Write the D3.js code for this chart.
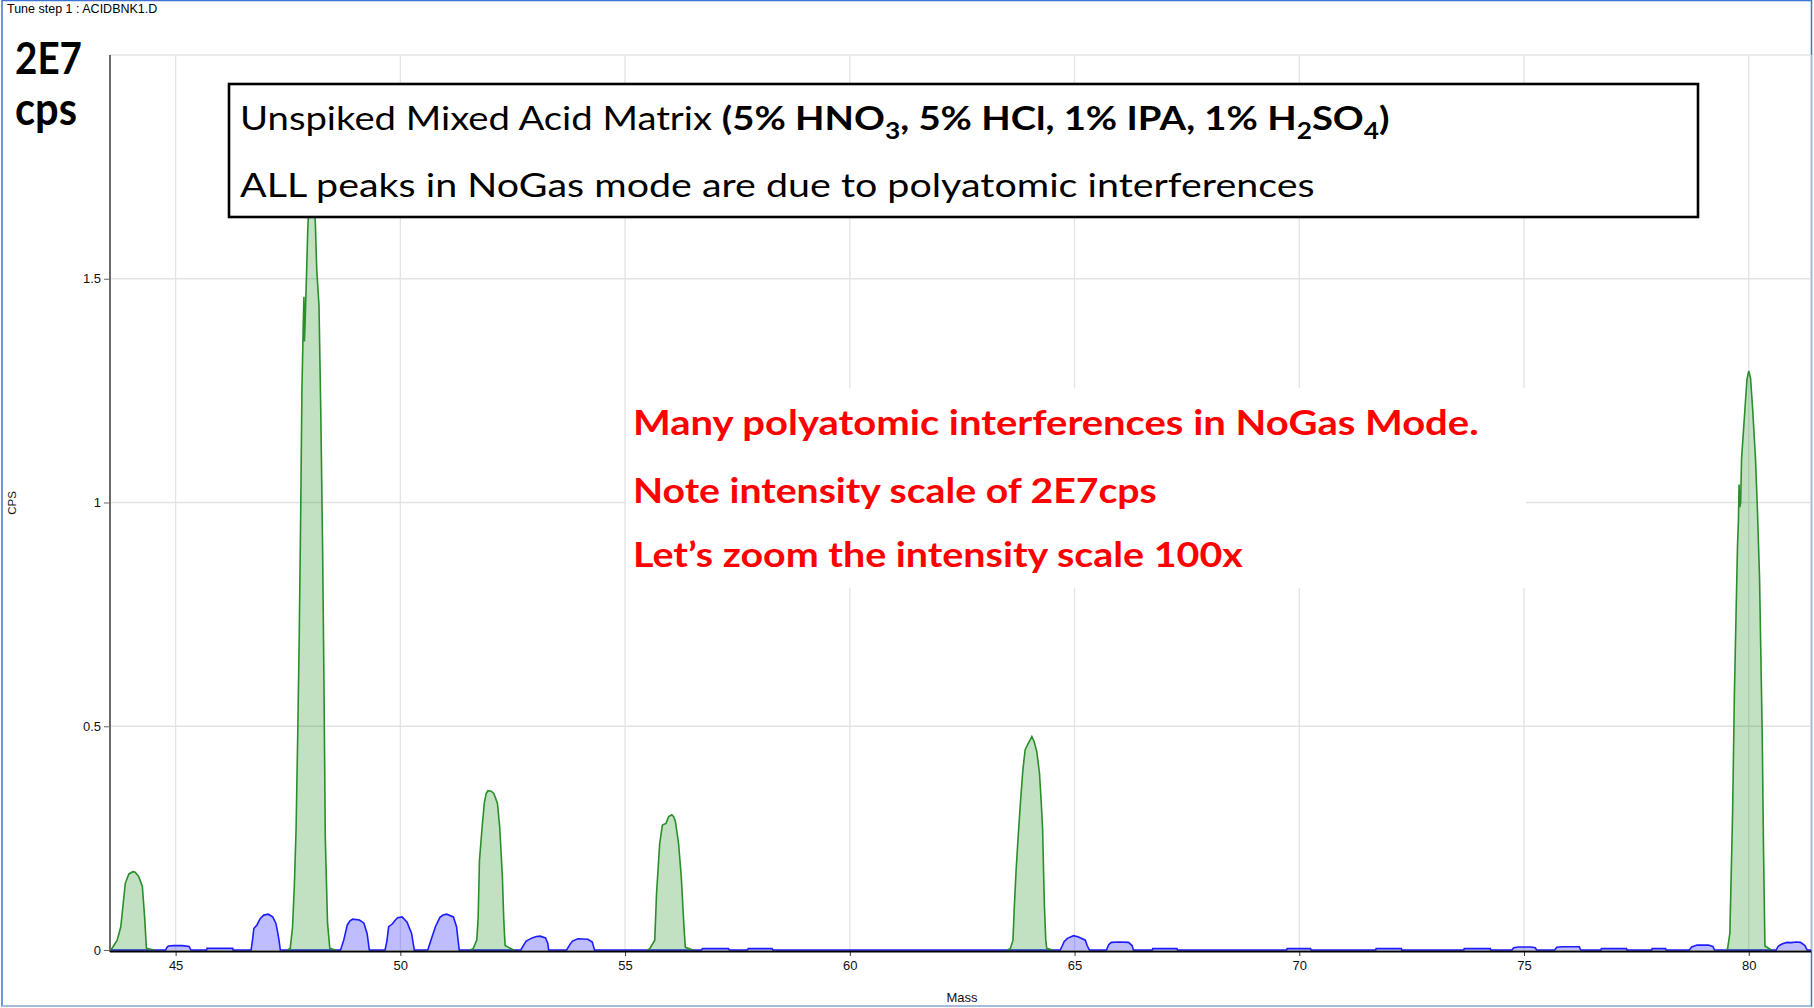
<!DOCTYPE html>
<html>
<head>
<meta charset="utf-8">
<script src="https://cdn.jsdelivr.net/npm/d3@7"></script>
<style>
  html, body { margin: 0; padding: 0; background: #fff; }
  svg { display: block; }
</style>
</head>
<body>
<svg id="chart" width="1814" height="1008"></svg>
<script>
// ---------------- DATA ----------------
const massTicks = [45, 50, 55, 60, 65, 70, 75, 80];
const massTickLabels = ["45", "50", "55", "60", "65", "70", "75", "80"];
const cpsTicks = [0, 0.5, 1, 1.5];
const cpsTickLabels = ["0", "0.5", "1", "1.5"];
const cpsGrid = [0.5, 1, 1.5, 2];
const massDomain = [43.54, 81.385];
const cpsDomain = [0, 2];

// NoGas mode (green) peaks: [mass, intensity in units of 1E7 cps]
const noGasPeak44 = [[43.55,0],[43.58,0.003],[43.70,0.022],[43.78,0.052],[43.84,0.11],[43.88,0.149],[43.96,0.170],[44.05,0.175],[44.10,0.174],[44.18,0.164],[44.26,0.142],[44.31,0.074],[44.35,0.004],[44.52,0]];
const noGasPeak48 = [[47.50,0],[47.55,0.004],[47.60,0.05],[47.64,0.14],[47.68,0.27],[47.72,0.50],[47.75,0.70],[47.78,0.95],[47.81,1.25],[47.84,1.40],[47.855,1.46],[47.865,1.36],[47.88,1.40],[47.91,1.50],[47.94,1.61],[47.98,1.70],[48.02,1.73],[48.07,1.70],[48.11,1.62],[48.14,1.52],[48.19,1.44],[48.23,1.20],[48.27,0.90],[48.30,0.60],[48.33,0.25],[48.38,0.06],[48.43,0.004],[48.55,0]];
const noGasPeak52 = [[51.55,0],[51.62,0.003],[51.70,0.022],[51.73,0.07],[51.76,0.20],[51.82,0.276],[51.87,0.33],[51.91,0.350],[51.95,0.356],[52.02,0.355],[52.08,0.350],[52.16,0.328],[52.21,0.276],[52.24,0.22],[52.27,0.164],[52.30,0.07],[52.33,0.01],[52.52,0]];
const noGasPeak56 = [[55.50,0],[55.55,0.003],[55.66,0.022],[55.70,0.127],[55.77,0.238],[55.83,0.279],[55.91,0.283],[55.97,0.298],[56.04,0.302],[56.08,0.298],[56.12,0.287],[56.19,0.238],[56.25,0.164],[56.31,0.052],[56.34,0.006],[56.51,0]];
const noGasPeak64 = [[63.50,0],[63.57,0.003],[63.63,0.022],[63.66,0.097],[63.70,0.179],[63.75,0.261],[63.80,0.335],[63.85,0.402],[63.90,0.447],[63.95,0.458],[64.01,0.469],[64.05,0.477],[64.10,0.466],[64.16,0.443],[64.22,0.395],[64.26,0.328],[64.29,0.268],[64.31,0.179],[64.33,0.097],[64.36,0.022],[64.38,0.004],[64.51,0]];
const noGasPeak80 = [[79.50,0],[79.53,0.003],[79.58,0.038],[79.64,0.303],[79.68,0.568],[79.72,0.762],[79.75,0.904],[79.77,0.957],[79.785,1.04],[79.80,0.99],[79.82,1.00],[79.84,1.098],[79.90,1.186],[79.96,1.275],[80.00,1.294],[80.04,1.278],[80.09,1.204],[80.15,1.098],[80.19,0.992],[80.24,0.833],[80.27,0.656],[80.30,0.480],[80.33,0.215],[80.36,0.009],[80.50,0]];

// Other masses (blue) peaks
const bluePeak45 = [[44.78,0],[44.80,0.005],[44.84,0.009],[44.95,0.0097],[45.15,0.0097],[45.30,0.008],[45.34,0]];
const bluePeak46 = [[45.69,0],[45.70,0.0037],[46.27,0.0037],[46.28,0]];
const bluePeak47 = [[46.68,0],[46.72,0.03],[46.74,0.048],[46.81,0.056],[46.88,0.07],[46.96,0.078],[47.06,0.080],[47.16,0.074],[47.23,0.06],[47.27,0.04],[47.30,0.022],[47.33,0]];
const bluePeak49 = [[48.67,0],[48.74,0.022],[48.82,0.056],[48.88,0.065],[48.94,0.069],[49.09,0.067],[49.19,0.060],[49.26,0.037],[49.31,0]];
const bluePeak50 = [[49.66,0],[49.70,0.02],[49.74,0.052],[49.82,0.058],[49.88,0.066],[49.94,0.072],[50.04,0.074],[50.15,0.062],[50.25,0.037],[50.31,0]];
const bluePeak51 = [[50.61,0],[50.68,0.022],[50.78,0.052],[50.88,0.073],[50.95,0.078],[51.03,0.080],[51.18,0.074],[51.25,0.052],[51.31,0]];
const bluePeak53 = [[52.68,0],[52.75,0.012],[52.80,0.020],[52.93,0.027],[53.03,0.030],[53.11,0.031],[53.23,0.027],[53.28,0.015],[53.30,0]];
const bluePeak54 = [[53.70,0],[53.77,0.012],[53.83,0.020],[53.95,0.025],[54.17,0.024],[54.27,0.018],[54.32,0]];
const bluePeak57 = [[56.70,0],[56.72,0.003],[57.30,0.003],[57.32,0]];
const bluePeak58 = [[57.72,0],[57.74,0.003],[58.27,0.003],[58.29,0]];
const bluePeak65 = [[64.68,0],[64.73,0.01],[64.77,0.019],[64.84,0.026],[64.98,0.032],[65.09,0.029],[65.24,0.022],[65.28,0.01],[65.33,0]];
const bluePeak66 = [[65.71,0],[65.76,0.012],[65.82,0.017],[65.99,0.018],[66.20,0.017],[66.28,0.01],[66.31,0]];
const bluePeak67 = [[66.73,0],[66.74,0.003],[67.28,0.003],[67.29,0]];
const bluePeak70 = [[69.72,0],[69.73,0.003],[70.25,0.003],[70.26,0]];
const bluePeak72 = [[71.70,0],[71.71,0.003],[72.27,0.003],[72.28,0]];
const bluePeak74 = [[73.66,0],[73.67,0.003],[74.25,0.003],[74.26,0]];
const bluePeak75 = [[74.73,0],[74.77,0.005],[74.88,0.0067],[75.15,0.0067],[75.25,0.005],[75.28,0]];
const bluePeak76 = [[75.68,0],[75.73,0.006],[75.85,0.0074],[76.23,0.0074],[76.26,0]];
const bluePeak77 = [[76.71,0],[76.72,0.003],[77.28,0.003],[77.29,0]];
const bluePeak78 = [[77.84,0],[77.85,0.003],[78.15,0.003],[78.16,0]];
const bluePeak79 = [[78.68,0],[78.73,0.007],[78.85,0.011],[79.10,0.011],[79.20,0.008],[79.24,0]];
const bluePeak81 = [[80.61,0],[80.66,0.009],[80.75,0.014],[80.85,0.017],[80.95,0.0165],[81.05,0.018],[81.15,0.017],[81.25,0.01],[81.30,0]];

const noGasPeaks = [noGasPeak44, noGasPeak48, noGasPeak52, noGasPeak56, noGasPeak64, noGasPeak80];
const bluePeaks = [bluePeak45, bluePeak46, bluePeak47, bluePeak49, bluePeak50, bluePeak51, bluePeak53, bluePeak54,
  bluePeak57, bluePeak58, bluePeak65, bluePeak66, bluePeak67, bluePeak70, bluePeak72, bluePeak74, bluePeak75,
  bluePeak76, bluePeak77, bluePeak78, bluePeak79, bluePeak81];

const windowTitle = "Tune step 1 : ACIDBNK1.D";
const scaleLabel = ["2E7", "cps"];
const redNotes = ["Many polyatomic interferences in NoGas Mode.", "Note intensity scale of 2E7cps", "Let\u2019s zoom the intensity scale 100x"];

// ---------------- DRAWING ----------------
const svg = d3.select("#chart");
svg.append("rect").attr("width", 1814).attr("height", 1008).attr("fill", "#fff");

const plotL = 110, plotR = 1811, plotT = 55, plotB = 950;
const x = d3.scaleLinear().domain(massDomain).range([plotL, plotR]);
const y = d3.scaleLinear().domain(cpsDomain).range([plotB, plotT]);

// window border + title
svg.append("rect").attr("x", 2).attr("y", 0.5).attr("width", 1809.5).attr("height", 1005.5)
  .attr("fill", "none").attr("stroke", "#3d74d4").attr("stroke-width", 1.5);
svg.append("line").attr("x1", 2).attr("x2", 1811).attr("y1", 1006).attr("y2", 1006)
  .attr("stroke", "#b9c7d8").attr("stroke-width", 1.5);
svg.append("text").attr("x", 7).attr("y", 13)
  .attr("font-family", "Liberation Sans, Arial, sans-serif").attr("font-size", 12.5)
  .attr("fill", "#000").text(windowTitle);

// gridlines
const grid = svg.append("g");
grid.selectAll("line.v").data(massTicks).enter().append("line")
  .attr("x1", d => x(d)).attr("x2", d => x(d)).attr("y1", plotT).attr("y2", plotB)
  .attr("stroke", "#e3e3e3").attr("stroke-width", 1.3);
grid.selectAll("line.h").data(cpsGrid).enter().append("line")
  .attr("x1", plotL).attr("x2", plotR).attr("y1", d => y(d)).attr("y2", d => y(d))
  .attr("stroke", "#e3e3e3").attr("stroke-width", 1.3);
grid.append("line").attr("x1", plotR).attr("x2", plotR).attr("y1", plotT).attr("y2", plotB)
  .attr("stroke", "#dcdcdc").attr("stroke-width", 1.3);

const area = d3.area().x(d => x(d[0])).y0(y(0)).y1(d => y(d[1]));
const line = d3.line().x(d => x(d[0])).y(d => y(d[1]));

// blue trace: baseline across the whole mass range plus the blue peaks
const blueTrace = [[massDomain[0], 0]].concat(...bluePeaks, [[massDomain[1], 0]]);
svg.append("path").datum(blueTrace).attr("d", area)
  .attr("fill", "#0000ff").attr("fill-opacity", 0.26);
svg.append("path").datum(blueTrace).attr("d", line)
  .attr("fill", "none").attr("stroke", "#1c1cff").attr("stroke-width", 1.6);

// green NoGas peaks
const gp = svg.append("g");
gp.selectAll("path.a").data(noGasPeaks).enter().append("path")
  .attr("d", area).attr("fill", "#008000").attr("fill-opacity", 0.24);
gp.selectAll("path.l").data(noGasPeaks).enter().append("path")
  .attr("d", line).attr("fill", "none").attr("stroke", "#2a8e2a").attr("stroke-width", 1.6);

// axes
const xAxis = d3.axisBottom(x).tickValues(massTicks).tickFormat((d, i) => massTickLabels[i])
  .tickSize(5).tickPadding(5);
const gx = svg.append("g").attr("transform", `translate(0,${plotB + 1})`).call(xAxis);
gx.select(".domain").remove();
gx.selectAll(".tick line").attr("stroke", "#333");
gx.selectAll(".tick text").attr("font-family", "Liberation Sans, Arial, sans-serif")
  .attr("font-size", 13).attr("fill", "#111");

const yAxis = d3.axisLeft(y).tickValues(cpsTicks).tickFormat((d, i) => cpsTickLabels[i])
  .tickSize(6).tickPadding(3);
const gy = svg.append("g").attr("transform", `translate(${plotL},0)`).call(yAxis);
gy.select(".domain").remove();
gy.selectAll(".tick line").attr("stroke", "#666");
gy.selectAll(".tick text").attr("font-family", "Liberation Sans, Arial, sans-serif")
  .attr("font-size", 13).attr("fill", "#111");

svg.append("line").attr("x1", plotL).attr("x2", plotL).attr("y1", plotT).attr("y2", plotB + 2)
  .attr("stroke", "#6a6a6a").attr("stroke-width", 2);
svg.append("line").attr("x1", plotL).attr("x2", plotR).attr("y1", plotB + 1.5).attr("y2", plotB + 1.5)
  .attr("stroke", "#000").attr("stroke-width", 2);

svg.append("text").attr("transform", `translate(16,503) rotate(-90)`).attr("text-anchor", "middle")
  .attr("font-family", "Liberation Sans, Arial, sans-serif").attr("font-size", 11.5).attr("fill", "#111").text("CPS");
svg.append("text").attr("x", 962).attr("y", 1002).attr("text-anchor", "middle")
  .attr("font-family", "Liberation Sans, Arial, sans-serif").attr("font-size", 13).attr("fill", "#111").text("Mass");

// helper: fit a text element horizontally into a target width
function fitText(t, x0, y0, w) {
  const bb = t.node().getBBox();
  const k = w / bb.width;
  t.attr("transform", `translate(${x0 - bb.x * k},${y0}) scale(${k},1)`);
}
const FONT = "Lato, 'Open Sans', 'Noto Sans', sans-serif";

// "2E7 / cps" label
const s1 = svg.append("text").attr("font-family", FONT).attr("font-weight", 700).attr("font-size", 44).attr("fill", "#000").text(scaleLabel[0]);
fitText(s1, 15, 74, 67);
const s2 = svg.append("text").attr("font-family", FONT).attr("font-weight", 700).attr("font-size", 46).attr("fill", "#000").text(scaleLabel[1]);
fitText(s2, 15, 125, 62);

// annotation box
svg.append("rect").attr("x", 229).attr("y", 84).attr("width", 1469).attr("height", 133)
  .attr("fill", "#fff").attr("stroke", "#000").attr("stroke-width", 2.6);

const l1 = svg.append("text").attr("font-family", FONT).attr("font-size", 32).attr("fill", "#000");
l1.append("tspan").text("Unspiked Mixed Acid Matrix ");
const b = [["(5% HNO", null], ["3", "sub"], [", 5% HCl, 1% IPA, 1% H", null], ["2", "sub"], ["SO", null], ["4", "sub"], [")", null]];
b.forEach(([s, kind]) => {
  const ts = l1.append("tspan").attr("font-weight", 700).text(s);
  if (kind === "sub") ts.attr("font-size", 22).attr("dy", 9);
  else if (s !== "(5% HNO") ts.attr("dy", -9);
});
fitText(l1, 240, 130, 1150);

const l2 = svg.append("text").attr("font-family", FONT).attr("font-size", 32).attr("fill", "#000")
  .text("ALL peaks in NoGas mode are due to polyatomic interferences");
fitText(l2, 240, 197, 1075);

// red notes on white background
svg.append("rect").attr("x", 626).attr("y", 388).attr("width", 900).attr("height", 200).attr("fill", "#fff");
const redBase = [435, 503, 567];
const redW = [846, 524, 611];
redNotes.forEach((s, i) => {
  const t = svg.append("text").attr("font-family", FONT).attr("font-weight", 700).attr("font-size", 35)
    .attr("fill", "#ff0000").text(s);
  fitText(t, 633, redBase[i], redW[i]);
});
</script>
</body>
</html>
